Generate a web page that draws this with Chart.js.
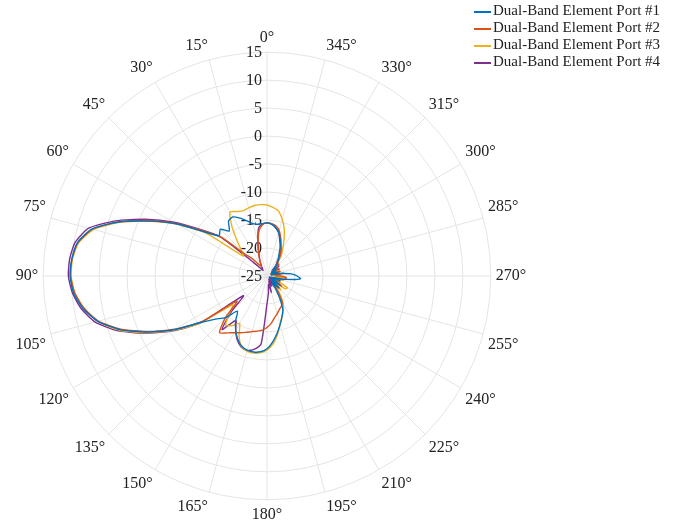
<!DOCTYPE html>
<html>
<head>
<meta charset="utf-8">
<script src="https://cdn.jsdelivr.net/npm/chart.js@4.4.1/dist/chart.umd.min.js"></script>
<style>
  html, body { margin: 0; padding: 0; background: #fff; }
  #wrap { position: relative; width: 678px; height: 527px; }
  #legend { position: absolute; left: 474px; top: 2px; font-family: "Liberation Serif", "Times New Roman", serif; font-size: 15px; color: #222; }
  #legend .row { height: 17px; line-height: 17px; white-space: nowrap; }
  #legend .swatch { display: inline-block; width: 17px; height: 2px; vertical-align: middle; margin-right: 2px; }
</style>
</head>
<body>
<div id="wrap">
  <canvas id="chart" width="678" height="527"></canvas>
  <div id="legend"></div>
</div>
<script>
// angles in degrees, counter-clockwise from the top, 5 degree steps
const angleStep = 5;
const angles = Array.from({ length: 360 / angleStep }, (_, k) => k * angleStep);

const radialTicks = [-25, -20, -15, -10, -5, 0, 5, 10, 15];
const angleTickEvery = 15;

const seriesNames = [
  'Dual-Band Element Port #1',
  'Dual-Band Element Port #2',
  'Dual-Band Element Port #3',
  'Dual-Band Element Port #4'
];
const seriesColors = ['#0072BD', '#D95319', '#EDB120', '#7E2F8E'];

// gain in dB at 0, 5, 10 ... 355 degrees
const port1 = [
  -15.5, -15.6, -15.6, -15.3, -14.5, -13.6, -12.8, -13.0, -14.5, -13.2, -13.8, -11.2,
  -6.4, -1.8, 3.2, 7.4, 9.4, 10.0, 10.2, 9.7, 8.4, 6.3, 3.0, -1.3,
  -5.8, -10.5, -13.0, -14.5, -16.8, -15.2, -13.8, -12.6, -11.7, -11.3, -11.2, -11.4,
  -12.0, -13.2, -14.6, -16.0, -17.2, -18.3, -20.5, -22.5, -23.5, -22.0, -24.0, -22.2,
  -23.5, -24.5, -22.5, -23.8, -21.5, -19.0, -19.6, -20.6, -22.5, -24.0, -23.0, -24.2,
  -23.2, -24.0, -22.8, -23.5, -22.2, -21.5, -20.8, -19.5, -18.1, -17.0, -16.2, -15.7
];
const port2 = [
  -15.5, -15.8, -16.8, -18.8, -20.5, -22.0, -23.0, -22.5, -21.0, -19.5, -14.0, -10.8,
  -6.2, -1.5, 3.3, 7.3, 9.3, 10.0, 10.1, 9.5, 8.2, 6.2, 2.8, -1.5,
  -6.0, -10.8, -18.0, -14.5, -11.8, -12.6, -13.3, -13.8, -14.3, -14.7, -15.0, -15.3,
  -15.8, -16.5, -17.4, -18.0, -18.6, -19.0, -19.5, -21.5, -23.0, -22.0, -24.0, -21.8,
  -23.5, -22.5, -24.0, -22.8, -21.8, -21.5, -22.5, -23.5, -22.0, -24.0, -22.5, -23.5,
  -24.2, -22.6, -23.8, -22.0, -22.5, -21.2, -20.0, -19.0, -17.8, -16.6, -15.9, -15.6
];
const port3 = [
  -12.3, -12.2, -12.2, -12.4, -12.6, -12.3, -11.8, -14.0, -16.6, -18.5, -19.5, -11.5,
  -6.5, -1.8, 3.0, 7.1, 9.2, 9.9, 10.0, 9.5, 8.2, 6.3, 3.2, -1.0,
  -5.5, -10.2, -17.0, -15.5, -13.5, -14.2, -15.2, -13.2, -11.6, -11.1, -11.0, -11.2,
  -11.8, -12.8, -14.3, -16.0, -17.2, -18.2, -19.2, -20.8, -22.5, -21.5, -23.0, -21.0,
  -20.8, -22.8, -23.5, -22.0, -23.8, -21.8, -23.0, -24.0, -22.5, -23.8, -24.2, -22.6,
  -23.5, -24.0, -22.8, -23.0, -22.0, -20.6, -19.4, -17.8, -16.0, -14.5, -13.2, -12.7
];
const port4 = [
  -15.5, -15.7, -16.3, -18.7, -20.8, -22.0, -23.2, -23.8, -23.2, -21.5, -14.2, -10.6,
  -5.8, -1.0, 3.8, 8.0, 9.8, 10.4, 10.5, 9.9, 8.7, 6.8, 3.5, -0.8,
  -5.3, -10.3, -19.5, -16.0, -12.5, -15.3, -13.8, -12.4, -11.5, -11.2, -11.7, -12.8,
  -20.0, -22.0, -23.5, -22.0, -24.0, -23.0, -24.3, -22.5, -23.8, -22.8, -24.5, -22.2,
  -23.6, -24.5, -23.0, -24.2, -22.5, -23.5, -22.8, -23.2, -24.2, -22.8, -24.0, -23.0,
  -22.5, -23.5, -22.2, -23.8, -22.5, -21.8, -20.0, -19.2, -18.3, -16.9, -16.2, -15.7
];
const seriesValues = [port1, port2, port3, port4];

// radar goes clockwise from the top, the plot goes counter-clockwise
const n = angles.length;
const order = angles.map((_, i) => (n - i) % n);
const labels = order.map(k => angles[k] + '°');

const serif = '"Liberation Serif", "Times New Roman", serif';
const textColor = '#222';
const gridColor = '#e4e4e4';

// radial tick labels, right aligned just left of the 0 degree spoke
const tickLabelPlugin = {
  id: 'tickLabels',
  beforeDatasetsDraw(chart) {
    const scale = chart.scales.r;
    const ctx = chart.ctx;
    ctx.save();
    ctx.font = '16px ' + serif;
    ctx.fillStyle = textColor;
    ctx.textAlign = 'right';
    ctx.textBaseline = 'middle';
    radialTicks.forEach(v => {
      const p = scale.getPointPositionForValue(0, v);
      ctx.fillText(String(v), p.x - 5, p.y + 1);
    });
    ctx.restore();
  }
};

new Chart(document.getElementById('chart'), {
  type: 'radar',
  data: {
    labels: labels,
    datasets: seriesValues.map((vals, s) => ({
      label: seriesNames[s],
      data: order.map(k => vals[k]),
      borderColor: seriesColors[s],
      backgroundColor: 'transparent',
      borderWidth: 1.4,
      pointRadius: 0,
      pointHoverRadius: 0,
      fill: false,
      tension: 0.2
    }))
  },
  options: {
    responsive: false,
    animation: false,
    layout: { padding: { left: 0, right: 136, top: 29, bottom: 2 } },
    plugins: {
      legend: { display: false },
      tooltip: { enabled: false }
    },
    scales: {
      r: {
        min: radialTicks[0],
        max: radialTicks[radialTicks.length - 1],
        ticks: { stepSize: 5, display: false },
        grid: { color: gridColor, lineWidth: 1, circular: true },
        angleLines: {
          lineWidth: 1,
          color: ctx => (angles[order[ctx.index]] % angleTickEvery === 0 ? gridColor : 'rgba(0,0,0,0)')
        },
        pointLabels: {
          padding: 5,
          color: textColor,
          font: { family: serif, size: 16 },
          callback: (label, i) => (angles[order[i]] % angleTickEvery === 0 ? label : '')
        }
      }
    }
  },
  plugins: [tickLabelPlugin]
});

// legend
const legend = document.getElementById('legend');
seriesNames.forEach((name, s) => {
  const row = document.createElement('div');
  row.className = 'row';
  const sw = document.createElement('span');
  sw.className = 'swatch';
  sw.style.background = seriesColors[s];
  row.appendChild(sw);
  row.appendChild(document.createTextNode(name));
  legend.appendChild(row);
});
</script>
</body>
</html>
